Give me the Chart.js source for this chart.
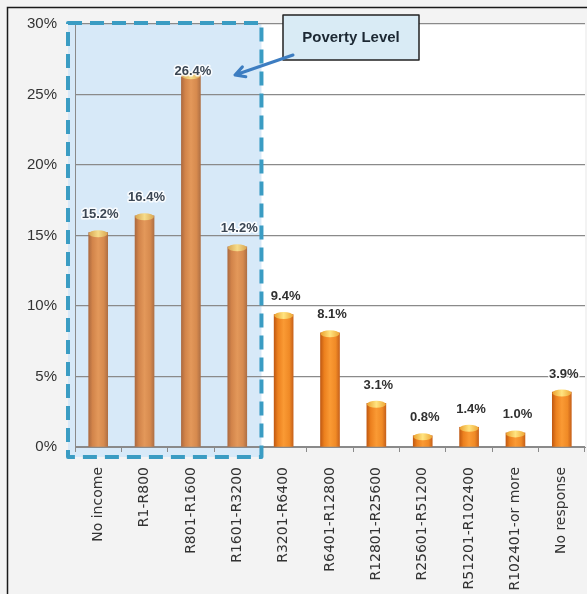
<!DOCTYPE html>
<html>
<head>
<meta charset="utf-8">
<script src="https://cdn.jsdelivr.net/npm/chart.js@4/dist/chart.umd.min.js"></script>
<style>
  html, body { margin: 0; padding: 0; background: #f3f3f3; }
  #wrap { position: relative; width: 587px; height: 594px; }
</style>
</head>
<body>
<div id="wrap"><canvas id="incomeChart"></canvas></div>
<script>
// household income bands and their share of respondents (%)
var categories = ['No income', 'R1-R800', 'R801-R1600', 'R1601-R3200', 'R3201-R6400',
  'R6401-R12800', 'R12801-R25600', 'R25601-R51200', 'R51201-R102400',
  'R102401-or more', 'No response'];
var shares = [15.2, 16.4, 26.4, 14.2, 9.4, 8.1, 3.1, 0.8, 1.4, 1.0, 3.9];
var yTicks = [0, 5, 10, 15, 20, 25, 30];
// bands that fall under the poverty line (first..last index)
var povertyBands = [0, 3];
var povertyLabel = 'Poverty Level';

var BAR_W = 19;

function inPoverty(i) {
  return i >= povertyBands[0] && i <= povertyBands[1];
}

function barFill(ctx) {
  var chart = ctx.chart;
  var xs = chart.scales.x;
  if (!xs || ctx.dataIndex === undefined) return '#e8892e';
  var cx = xs.getPixelForValue(ctx.dataIndex);
  if (!isFinite(cx)) return '#e8892e';
  var g = chart.ctx.createLinearGradient(cx - BAR_W / 2, 0, cx + BAR_W / 2, 0);
  if (inPoverty(ctx.dataIndex)) {
    // muted under the blue band
    g.addColorStop(0, '#ad6a40');
    g.addColorStop(0.2, '#d2844a');
    g.addColorStop(0.5, '#e3985a');
    g.addColorStop(0.8, '#d68a4e');
    g.addColorStop(1, '#b07044');
  } else {
    g.addColorStop(0, '#c25a12');
    g.addColorStop(0.2, '#ec801e');
    g.addColorStop(0.5, '#fa9a34');
    g.addColorStop(0.8, '#f08a26');
    g.addColorStop(1, '#c8621a');
  }
  return g;
}

function bandBox(chart) {
  var a = chart.chartArea, xs = chart.scales.x, ys = chart.scales.y;
  var half = (xs.getPixelForValue(1) - xs.getPixelForValue(0)) / 2;
  var left = a.left - 7;
  var right = xs.getPixelForValue(povertyBands[1]) + half + 1;
  var top = ys.getPixelForValue(30) - 1;
  var bottom = a.bottom + 10;
  return { left: left, top: top, w: right - left, h: bottom - top };
}

var decorations = {
  id: 'decorations',
  beforeDraw: function (chart) {
    var c = chart.ctx, a = chart.chartArea;
    c.save();
    c.fillStyle = '#f3f3f3';
    c.fillRect(0, 0, chart.width, chart.height);
    // outer frame
    c.strokeStyle = '#1a1a1a';
    c.lineWidth = 1.5;
    c.beginPath();
    c.moveTo(7.5, chart.height);
    c.lineTo(7.5, 7.5);
    c.lineTo(chart.width, 7.5);
    c.stroke();
    // plot area
    c.fillStyle = '#ffffff';
    c.fillRect(a.left, a.top, a.right - a.left, a.bottom - a.top);
    // poverty band fill, under grid and bars
    var b = bandBox(chart);
    c.fillStyle = '#d7e9f8';
    c.fillRect(b.left, b.top, b.w, b.h);
    c.restore();
  },
  afterDatasetsDraw: function (chart) {
    var c = chart.ctx, a = chart.chartArea;
    var meta = chart.getDatasetMeta(0);
    c.save();

    // cylinder caps
    meta.data.forEach(function (bar, i) {
      var g = c.createLinearGradient(bar.x - BAR_W / 2, 0, bar.x + BAR_W / 2, 0);
      if (inPoverty(i)) {
        g.addColorStop(0, '#d7a450');
        g.addColorStop(0.5, '#f6dc8a');
        g.addColorStop(1, '#d9a652');
      } else {
        g.addColorStop(0, '#eba02e');
        g.addColorStop(0.5, '#ffe480');
        g.addColorStop(1, '#eea634');
      }
      c.fillStyle = g;
      c.beginPath();
      c.ellipse(bar.x, bar.y + 1, BAR_W / 2, 3.5, 0, 0, Math.PI * 2);
      c.fill();
    });

    // value labels
    c.font = 'bold 13px "Liberation Sans", Arial, sans-serif';
    c.textAlign = 'center';
    c.textBaseline = 'middle';
    c.lineJoin = 'round';
    meta.data.forEach(function (bar, i) {
      var txt = shares[i].toFixed(1) + '%';
      var y = Math.max(bar.y - 18, a.top + 47);
      c.strokeStyle = 'rgba(255,255,255,0.85)';
      c.lineWidth = 3;
      c.strokeText(txt, bar.x + 2, y);
      c.fillStyle = inPoverty(i) ? '#3b4653' : '#303030';
      c.fillText(txt, bar.x + 2, y);
    });

    // dashed outline of the poverty band
    var b = bandBox(chart);
    c.strokeStyle = '#3a9cc3';
    c.lineWidth = 4;
    c.setLineDash([14, 8]);
    c.strokeRect(b.left, b.top, b.w, b.h);
    c.setLineDash([]);

    // callout box
    var bx = 283, by = 15, bw = 136, bh = 45;
    c.fillStyle = '#d9ebf5';
    c.fillRect(bx, by, bw, bh);
    c.strokeStyle = '#222222';
    c.lineWidth = 1.5;
    c.strokeRect(bx, by, bw, bh);
    c.fillStyle = '#1c2833';
    c.font = 'bold 15px "Liberation Sans", Arial, sans-serif';
    c.fillText(povertyLabel, bx + bw / 2, by + bh / 2);

    // arrow to the band
    var tx = 293, ty = 55, hx = 235, hy = 75;
    c.strokeStyle = '#3d7dc1';
    c.lineWidth = 3;
    c.lineCap = 'round';
    c.beginPath();
    c.moveTo(tx, ty);
    c.lineTo(hx, hy);
    var ang = Math.atan2(hy - ty, hx - tx);
    c.moveTo(hx + 11 * Math.cos(ang + Math.PI - 0.5), hy + 11 * Math.sin(ang + Math.PI - 0.5));
    c.lineTo(hx, hy);
    c.lineTo(hx + 11 * Math.cos(ang + Math.PI + 0.5), hy + 11 * Math.sin(ang + Math.PI + 0.5));
    c.stroke();

    c.restore();
  }
};

new Chart(document.getElementById('incomeChart'), {
  type: 'bar',
  data: {
    labels: categories,
    datasets: [{
      data: shares,
      backgroundColor: barFill,
      borderWidth: 0,
      barThickness: BAR_W
    }]
  },
  options: {
    responsive: true,
    maintainAspectRatio: false,
    animation: false,
    layout: { padding: { top: 24, right: 2, left: 0, bottom: 0 } },
    plugins: { legend: { display: false }, tooltip: { enabled: false } },
    scales: {
      x: {
        grid: { display: true, drawOnChartArea: false, tickLength: 5, color: '#8a8a8a' },
        border: { color: '#8a8a8a' },
        ticks: {
          minRotation: 90, maxRotation: 90, autoSkip: false, padding: 15,
          color: '#333333',
          font: { family: '"DejaVu Sans", Verdana, sans-serif', size: 14 }
        },
        afterFit: function (s) {
          s.height = 147;
          s.paddingLeft = 0;
          s.paddingRight = 0;
        }
      },
      y: {
        min: 0, max: 30,
        afterBuildTicks: function (s) { s.ticks = yTicks.map(function (v) { return { value: v }; }); },
        grid: { color: '#8a8a8a', lineWidth: 1.2, drawTicks: false },
        border: { color: '#8a8a8a' },
        ticks: {
          padding: 18,
          color: '#333333',
          font: { family: '"Liberation Sans", Arial, sans-serif', size: 15 },
          callback: function (v) { return v + '%'; }
        },
        afterFit: function (s) {
          s.width = 75;
          s.paddingTop = 0;
        }
      }
    }
  },
  plugins: [decorations]
});
</script>
</body>
</html>
